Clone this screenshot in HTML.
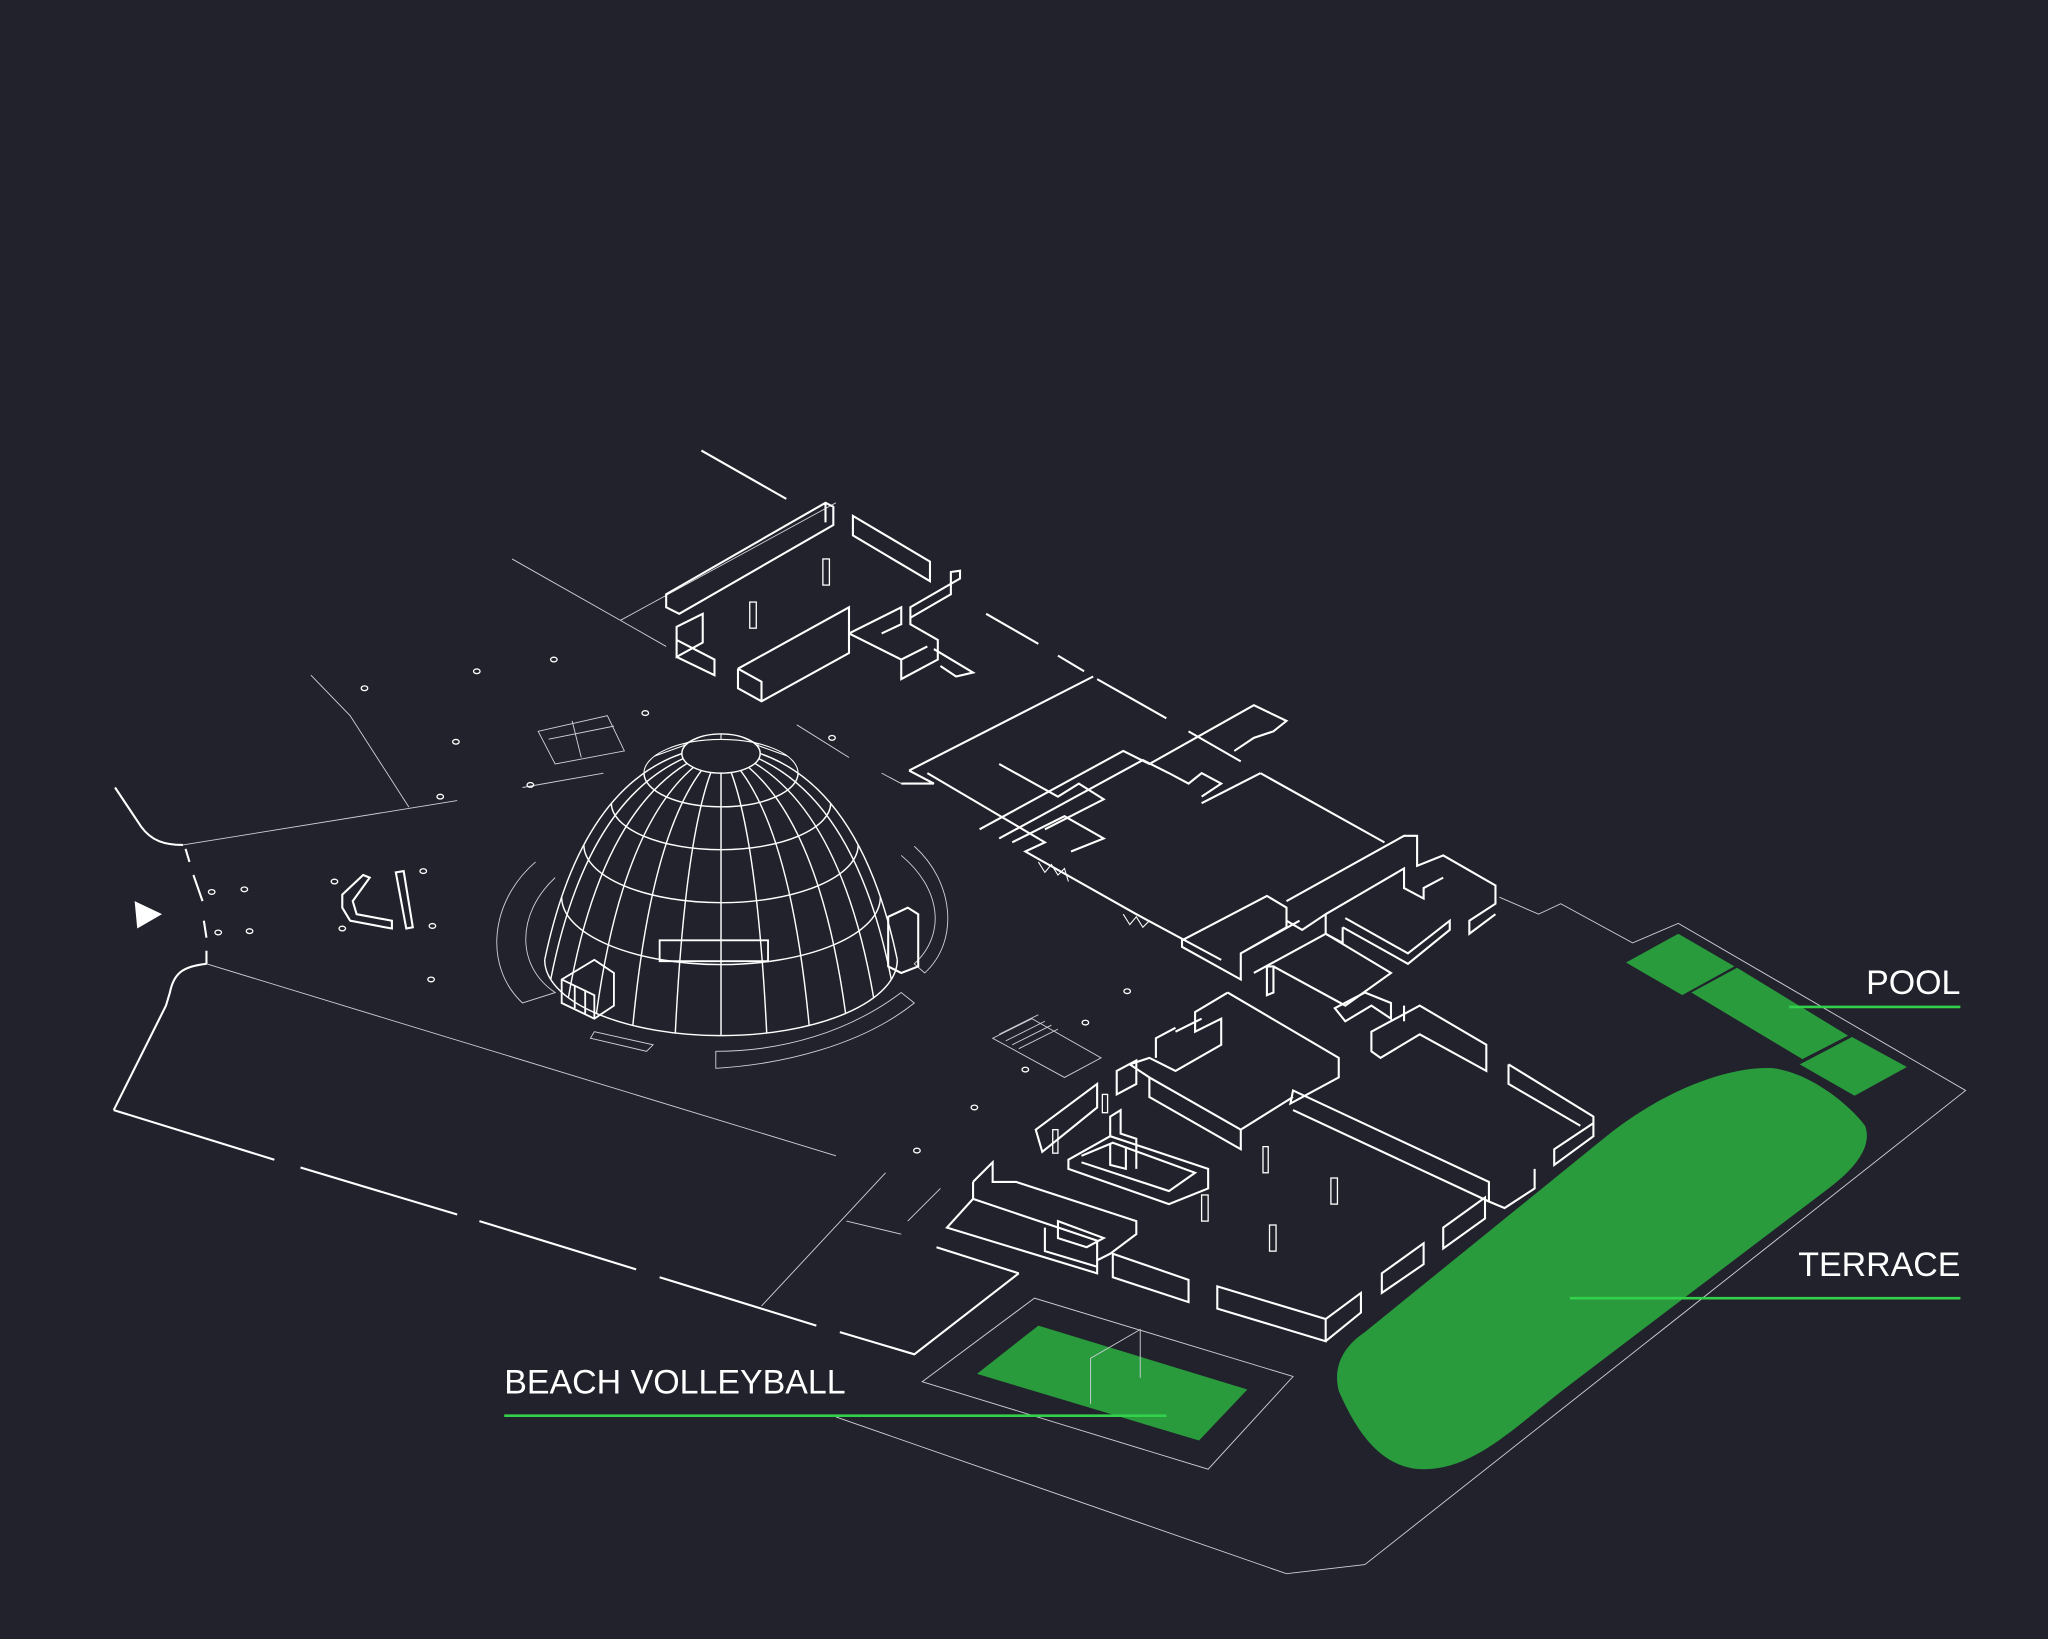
<!DOCTYPE html>
<html><head><meta charset="utf-8"><style>
html,body{margin:0;padding:0;background:#21222b;}
svg{display:block}
text{font-family:"Liberation Sans",sans-serif;fill:#fff;font-size:26px;}
</style></head><body>
<svg width="2048" height="1639" viewBox="0 0 1568 1255" xmlns="http://www.w3.org/2000/svg">
<rect width="1568" height="1255" fill="#21222b"/>
<g fill="none" stroke="#cfd0d6" stroke-width="0.7">
<path d="M640,1085 L985,1205 L1045,1198 L1505,835 L1285,707 L1250,722 L1195,692 L1178,700 L1148,687"/>
<path d="M706,1058 L792,994 L990,1054 L925,1125 Z"/>
<path d="M158,738 L640,885"/>
<path d="M140,647 L350,613"/>
<path d="M238,517 L268,548 L313,618"/>
<path d="M392,428 L475,475"/>
<path d="M583,1000 L678,898 M648,935 L690,945 M695,935 L720,910"/>
<path d="M610,555 L650,580 M675,592 L690,600"/>
<path d="M475,475 L640,385 M475,475 L510,495"/>
<path d="M400,603 L462,592"/>
<path d="M410,660 C375,690 370,740 400,768 L425,760 C395,740 395,700 425,672"/>
<path d="M690,655 C720,680 725,715 700,738 L708,745 C735,720 730,675 700,648"/>
<path d="M548,805 C600,805 650,790 690,760 L700,768 C660,800 600,815 548,818 Z"/>
<path d="M455,790 L500,800 L495,805 L452,795 Z"/>
<path d="M412,560 L465,548 L478,575 L425,585 Z M438,552 L445,580 M420,566 L470,556"/>
<path d="M760,795 L790,780 L843,810 L815,825 Z M765,792 L795,777 M770,797 L800,782 M775,800 L805,785 M780,803 L810,788"/>
</g>
<g fill="none" stroke="#ffffff" stroke-width="1.6">
<path d="M88,603 L108,633 C116,644 126,647 140,647"/>
<path d="M142,650 L145,660 M148,670 L155,690 M156,705 L158,718 M158,728 L158,738"/>
<path d="M158,738 C140,740 133,745 130,760 L127,770 L87,850"/>
<path d="M87,850 L210,888 M230,894 L350,930 M367,935 L487,972 M505,978 L625,1015 M643,1020 L700,1037 L780,975"/>
<path d="M537,345 L602,382"/>
<path d="M755,470 L795,493 M810,502 L830,514 M840,520 L893,550 M910,560 L950,583 M965,592 L1060,645"/>
<path d="M717,955 L780,975"/>
<path d="M510,455 L632,385 L638,388 L638,402 L520,470 L510,465 Z M632,385 L632,400"/>
<path d="M653,395 L712,430 L712,445 L653,410 Z"/>
<path d="M565,512 L650,465 L650,485 L690,505 L690,520 L718,505 L718,490 L697,478 L697,465 L735,443 L735,437 L728,438 L728,455 L697,473 M565,512 L565,527 L583,537 L650,500 L650,485 M583,537 L583,522 L565,512 M650,485 L690,465 L690,478 L675,485 M690,505 L710,495"/>
<path d="M518,480 L538,470 L538,492 L518,503 Z M518,503 L518,490 L547,505 L547,517 L518,503"/>
<path d="M715,497 L745,515 L732,518 L720,510"/>
<path d="M696,590 L837,518 M696,590 L715,600 L690,600"/>
<path d="M710,592 L800,645 L785,652 L870,700 L935,735"/>
<path d="M750,635 L860,575 L880,585 L960,540 L985,552 L975,560 L960,565 L945,575 M765,642 L875,582 L895,592 L910,600 L920,592 L935,600 L920,610"/>
<path d="M765,585 L810,610 L826,600 L845,612 L800,635 M775,645 L815,625 L845,642 L820,652"/>
<path d="M920,615 L965,592"/>
<path d="M905,720 L970,686 L985,695 L985,710 L950,730 L950,750 L905,725 Z M950,730 L995,705"/>
<path d="M985,690 L1075,640 L1085,640 L1085,663 L1105,655 L1145,678 L1145,692 L1125,705 L1125,715 L1145,700 M1015,700 L1075,665 L1075,680 L1090,688 L1090,680 L1105,672 M985,705 L997,712 L1015,700 L1015,715 L1028,722 L1028,710"/>
<path d="M1028,710 L1078,738 L1110,712 L1110,705 L1078,730 L1030,703"/>
<path d="M960,745 L1015,715 L1065,745 L1030,770 L975,740"/>
<path d="M970,740 L975,740 L975,760 L970,762 Z"/>
<path d="M1022,772 L1045,760 L1065,768 L1065,780 L1050,770 L1030,782 Z"/>
<path d="M1050,790 L1087,770 L1138,800 L1138,820 L1087,792 L1057,810 L1050,805 Z"/>
<path d="M1075,770 L1075,782"/>
<path d="M1155,815 L1220,855 L1220,870 L1190,892 L1190,880 L1220,860 M1155,815 L1155,830 L1210,862"/>
<path d="M940,760 L1025,810 L1025,825 L988,845 L990,835 L1140,905 L1140,920 L1152,925 L1175,910 L1175,895 M940,760 L915,775 L915,790 L935,780 L935,800 L900,820 L880,810 L865,815 L880,825 L950,865 L990,840"/>
<path d="M880,825 L880,840 L950,880 L950,865 M990,850 L1140,920"/>
<path d="M885,810 L885,795 L900,787 M900,790 L920,780"/>
<path d="M855,820 L870,812 L870,830 L855,838 Z"/>
<path d="M793,865 L840,830 L840,848 L798,882 Z"/>
<path d="M818,888 L850,870 L925,895 L925,910 L895,922 L818,895 Z M828,885 L852,875 L915,898 L895,912 L828,890"/>
<path d="M850,870 L850,855 L858,850 L858,868 L870,872 L870,895 M850,876 L850,892 L862,895 L862,878"/>
<path d="M745,905 L760,890 L760,905 L778,905 L870,935 L870,945 L850,960 L840,965 L840,975 L725,940 L745,918 L745,905 M745,918 L840,950 L840,965 M800,940 L800,958 L840,970"/>
<path d="M810,935 L845,948 L832,955 L810,948 Z"/>
<path d="M852,960 L910,980 L910,997 L852,978 Z"/>
<path d="M932,985 L1015,1010 L1015,1027 L932,1002 Z M1015,1010 L1042,990 L1042,1005 L1015,1027"/>
<path d="M1058,975 L1090,952 L1090,968 L1058,990 Z"/>
<path d="M1105,940 L1137,917 L1137,933 L1105,956 Z"/>
<path d="M262,685 L278,670 L283,672 L270,690 L273,700 L300,705 L300,711 L268,705 L262,695 Z"/>
<path d="M303,668 L309,667 L316,710 L311,711 Z"/>
<path d="M680,702 L695,695 L703,700 L703,740 L690,745 L680,740 Z"/>
</g>
<!-- dome -->
<g fill="none" stroke="#ffffff" stroke-width="1.1">
<path d="M522,577 Q444.5,604 417,735"/>
<path d="M582,577 Q659.5,604 687,735"/>
<path d="M417,735 A135 58 0 0 0 687,735"/>
<ellipse cx="552" cy="577" rx="30" ry="15"/>
<path d="M493,592 A59 25.8 0 0 0 611,592"/>
<path d="M493,592 A59 25.8 0 0 1 611,592" stroke-width="0.8"/>
<path d="M468,615 A84 35.6 0 0 0 636,615"/>
<path d="M447,647 A105 44.2 0 0 0 657,647"/>
<path d="M430,687 A122 51.6 0 0 0 674,687"/>
<path d="M581,581 Q655.8,615.3 682.4,750"/>
<path d="M578,584.5 Q645.1,625.8 668.9,764"/>
<path d="M573.2,587.6 Q628,634.8 647.4,776"/>
<path d="M567,590 Q605.8,641.7 619.5,785.2"/>
<path d="M559.8,591.5 Q579.8,646 587,791"/>
<path d="M552,592 L552,793"/>
<path d="M544.2,591.5 Q524.2,646 517,791"/>
<path d="M537,590 Q498.2,641.7 484.5,785.2"/>
<path d="M530.8,587.6 Q476,634.8 456.6,776"/>
<path d="M526,584.5 Q458.9,625.8 435.1,764"/>
<path d="M523,580.9 Q448.2,615.3 421.6,750"/>
<path d="M578,570 L603,579 M567,564 L581,570 M552,562 L552,566 M537,564 L523,570 M526,570 L501,579" stroke-width="0.8"/>
<path d="M505,720 L588,720 L588,736 L505,736 Z" stroke-width="1.4"/>
<path d="M430,750 L455,735 L470,745 L470,770 L455,780 L430,768 Z M430,750 L455,762 L455,780 M440,755 L440,772 M448,758 L448,776" stroke-width="1.4"/>
</g>
<g fill="none" stroke="#ffffff" stroke-width="1">
<ellipse cx="279" cy="527" rx="2.5" ry="1.8"/><ellipse cx="365" cy="514" rx="2.5" ry="1.8"/>
<ellipse cx="424" cy="505" rx="2.5" ry="1.8"/><ellipse cx="494" cy="546" rx="2.5" ry="1.8"/>
<ellipse cx="349" cy="568" rx="2.5" ry="1.8"/><ellipse cx="337" cy="610" rx="2.5" ry="1.8"/>
<ellipse cx="406" cy="601" rx="2.5" ry="1.8"/><ellipse cx="637" cy="565" rx="2.5" ry="1.8"/>
<ellipse cx="162" cy="683" rx="2.5" ry="1.8"/><ellipse cx="187" cy="681" rx="2.5" ry="1.8"/>
<ellipse cx="167" cy="714" rx="2.5" ry="1.8"/><ellipse cx="191" cy="713" rx="2.5" ry="1.8"/>
<ellipse cx="256" cy="675" rx="2.5" ry="1.8"/><ellipse cx="324" cy="667" rx="2.5" ry="1.8"/>
<ellipse cx="262" cy="711" rx="2.5" ry="1.8"/><ellipse cx="331" cy="709" rx="2.5" ry="1.8"/>
<ellipse cx="330" cy="750" rx="2.5" ry="1.8"/><ellipse cx="863" cy="759" rx="2.5" ry="1.8"/>
<ellipse cx="831" cy="783" rx="2.5" ry="1.8"/><ellipse cx="785" cy="819" rx="2.5" ry="1.8"/>
<ellipse cx="746" cy="848" rx="2.5" ry="1.8"/><ellipse cx="702" cy="881" rx="2.5" ry="1.8"/>
<rect x="630" y="428" width="5" height="20"/><rect x="574" y="461" width="5" height="20"/>
<rect x="967" y="878" width="4" height="20"/><rect x="1019" y="902" width="5" height="20"/>
<rect x="920" y="915" width="5" height="20"/><rect x="972" y="938" width="5" height="20"/>
<rect x="806" y="865" width="4" height="18"/><rect x="844" y="838" width="4" height="14"/>
</g>
<g fill="none" stroke="#ffffff" stroke-width="0.8">
<path d="M795,660 L800,668 L805,662 L810,670 L815,665 L818,675"/>
<path d="M860,700 L865,708 L870,702 L875,710 L880,705"/>
</g>
<polygon points="103,690 124,700 105,711" fill="#ffffff"/>
<g fill="#299b3d">
<path d="M1045,1020 L1230,870 C1280,830 1330,816 1358,818 C1388,822 1418,848 1428,862 C1434,878 1420,895 1400,910 L1205,1058 C1160,1092 1130,1125 1090,1125 C1060,1125 1040,1100 1025,1065 C1020,1045 1030,1030 1045,1020 Z"/>
<polygon points="1245,737 1285,715 1328,740 1288,762"/>
<polygon points="1295,760 1330,741 1415,793 1380,811"/>
<polygon points="1378,815 1418,794 1460,817 1420,839"/>
<polygon points="748,1052 795,1015 955,1064 918,1103"/>
</g>
<g fill="none" stroke="#cfd0d6" stroke-width="0.7">
<path d="M835,1075 L835,1040 L873,1018 L873,1055"/>
</g>
<text x="1501" y="761" text-anchor="end">POOL</text>
<line x1="1370" y1="771" x2="1501" y2="771" stroke="#33d14b" stroke-width="2"/>
<text x="1501" y="977" text-anchor="end">TERRACE</text>
<line x1="1202" y1="994" x2="1501" y2="994" stroke="#33d14b" stroke-width="2"/>
<text x="386" y="1067">BEACH VOLLEYBALL</text>
<line x1="386" y1="1084" x2="893" y2="1084" stroke="#33d14b" stroke-width="2"/>
</svg>
</body></html>
